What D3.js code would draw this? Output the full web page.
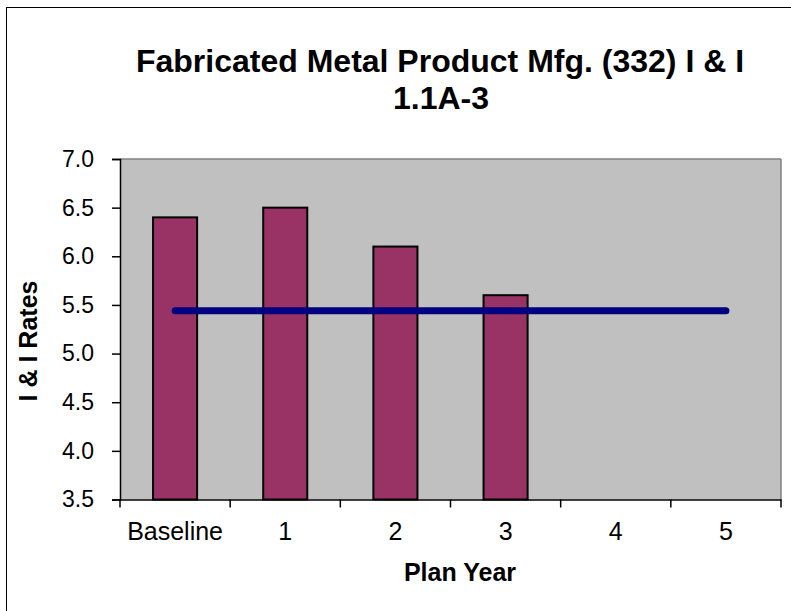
<!DOCTYPE html>
<html><head><meta charset="utf-8">
<script src="https://cdn.jsdelivr.net/npm/d3@7"></script>
<style>body{margin:0;background:#fff}svg{display:block}text{font-family:Arial,"Liberation Sans",sans-serif}</style>
</head><body>
<script>
const categories = ["Baseline","1","2","3","4","5"];
const barValues = [6.4, 6.5, 6.1, 5.6, null, null];
const targetValues = [5.44, 5.44, 5.44, 5.44, 5.44, 5.44];
const yTicks = [3.5,4.0,4.5,5.0,5.5,6.0,6.5,7.0];
const titleLines = ["Fabricated Metal Product Mfg. (332) I & I", "1.1A-3"];

const W = 791, H = 611;
const m = {left:120, right:781, top:159, bottom:499.5};
const svg = d3.select("body").append("svg").attr("width",W).attr("height",H);

svg.append("rect").attr("x",6.5).attr("y",7.5).attr("width",900).attr("height",900)
  .attr("fill","#fff").attr("stroke","#000").attr("stroke-width",1);

const x = d3.scaleBand().domain(categories).range([m.left,m.right]).paddingInner(0).paddingOuter(0);
const y = d3.scaleLinear().domain([3.5,7.0]).range([m.bottom,m.top]);

svg.append("rect").attr("x",m.left).attr("y",m.top).attr("width",m.right-m.left).attr("height",m.bottom-m.top)
  .attr("fill","#c0c0c0");
svg.append("line").attr("x1",m.left).attr("x2",m.right).attr("y1",m.top).attr("y2",m.top).attr("stroke","#808080").attr("stroke-width",1.5);
svg.append("line").attr("x1",m.right).attr("x2",m.right).attr("y1",m.top).attr("y2",m.bottom).attr("stroke","#808080").attr("stroke-width",1.5);

const bw = x.bandwidth()*0.4;
svg.selectAll("rect.bar").data(categories.map((c,i)=>({c,v:barValues[i]})).filter(d=>d.v!=null))
  .enter().append("rect").attr("class","bar")
  .attr("x",d=>x(d.c)+x.bandwidth()/2-bw/2).attr("width",bw)
  .attr("y",d=>y(d.v)).attr("height",d=>y(3.5)-y(d.v))
  .attr("fill","#993366").attr("stroke","#000").attr("stroke-width",2);

const line = d3.line().x((d,i)=>x(categories[i])+x.bandwidth()/2).y(d=>y(d));
svg.append("path").datum(targetValues).attr("d",line).attr("fill","none")
  .attr("stroke","#000080").attr("stroke-width",7).attr("stroke-linecap","round");

const yAxis = d3.axisLeft(y).tickValues(yTicks).tickFormat(d3.format(".1f")).tickSize(8).tickPadding(18);
const gy = svg.append("g").attr("transform",`translate(${m.left},0)`).call(yAxis);
gy.select(".domain").attr("stroke","#000").attr("stroke-width",1.5);
gy.selectAll(".tick line").attr("stroke","#000").attr("stroke-width",1.5);
gy.selectAll(".tick text").attr("font-size",23).attr("fill","#000");

const xAxis = d3.axisBottom(x).tickSize(0).tickPadding(23);
const gx = svg.append("g").attr("transform",`translate(0,${m.bottom})`).call(xAxis);
gx.select(".domain").attr("stroke","#000").attr("stroke-width",1.5);
gx.selectAll(".tick text").attr("font-size",25).attr("fill","#000");
const sepPositions = categories.map(c=>x(c)).concat([m.right]);
svg.selectAll("line.sep").data(sepPositions).enter().append("line")
  .attr("x1",d=>d).attr("x2",d=>d).attr("y1",m.bottom).attr("y2",m.bottom+8)
  .attr("stroke","#000").attr("stroke-width",1.5);

svg.append("text").attr("x",440).attr("y",72).attr("text-anchor","middle")
  .attr("font-size",32).attr("font-weight","bold").text(titleLines[0]);
svg.append("text").attr("x",441).attr("y",109).attr("text-anchor","middle")
  .attr("font-size",32).attr("font-weight","bold").text(titleLines[1]);

svg.append("text").attr("x",460).attr("y",581).attr("text-anchor","middle")
  .attr("font-size",25).attr("font-weight","bold").text("Plan Year");
svg.append("text").attr("transform","translate(37,341) rotate(-90)").attr("text-anchor","middle")
  .attr("font-size",25).attr("font-weight","bold").text("I & I Rates");
</script>
</body></html>
